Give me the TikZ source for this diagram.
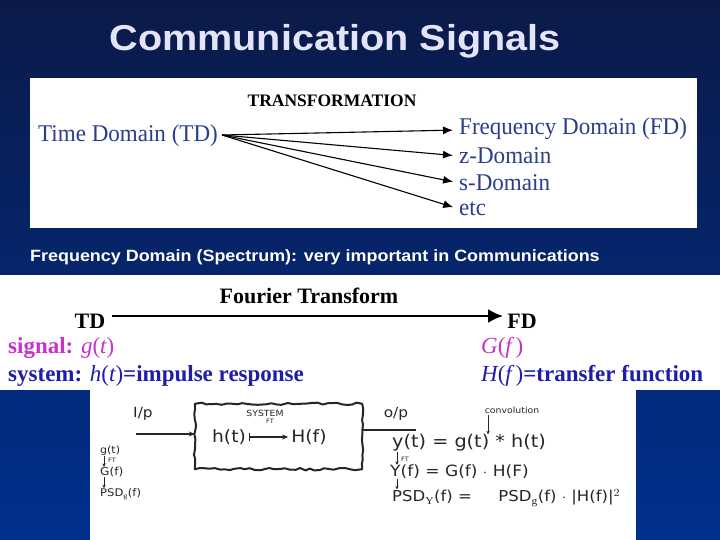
\documentclass[tikz,border=0pt]{standalone}
\usepackage{fontspec}
\setmainfont{Liberation Serif}
\newfontfamily\arialf{Liberation Sans}
\newfontfamily\handf{DejaVu Sans}
\usetikzlibrary{arrows.meta,decorations.pathmorphing}
\definecolor{bgtop}{HTML}{0B1A48}
\definecolor{bgmid}{HTML}{072A78}
\definecolor{bgbot}{HTML}{00308E}
\definecolor{titlec}{HTML}{E4E4F8}
\definecolor{boxblue}{HTML}{2B3E8C}
\definecolor{magc}{HTML}{C832C8}
\definecolor{sysblue}{HTML}{1E1EA8}
\definecolor{penc}{HTML}{262626}
\newcommand{\hsc}[1]{\scalebox{1.1}[1]{#1}}
\newcommand{\hw}[1]{\scalebox{1.1}[1]{#1}}
\begin{document}
\begin{tikzpicture}[x=1pt,y=-1pt,
  bt/.style={font=\fontsize{24}{26}\selectfont, text=boxblue, inner sep=0pt, anchor=west},
  thinarr/.style={-{Latex[length=10pt,width=8pt]}, line width=1.1pt, black},
  bb/.style={font=\bfseries\fontsize{22}{25}\selectfont, inner sep=0pt},
  lbl/.style={font=\bfseries\fontsize{23}{26}\selectfont, inner sep=0pt, anchor=west},
  hand/.style={font=\handf\fontsize{#1}{#1}\selectfont, text=penc, inner sep=0pt},
  hand/.default=11,
  pen/.style={draw=penc, line width=1.2pt},
  penarr/.style={pen, -{Stealth[length=6pt,width=5pt]}},
  smallarr/.style={penc, line width=0.9pt, -{Stealth[length=3.5pt,width=3.5pt]}}
]
\useasboundingbox (0,0) rectangle (720,540);
\shade[top color=bgtop, middle color=bgmid, bottom color=bgbot] (0,0) rectangle (720,540);

% title
\node[font=\arialf\bfseries\fontsize{36}{40}\selectfont, text=titlec, inner sep=0pt] (title) at (335,41) {\hsc{Communication Signals}};

% box 1
\fill[white] (30,78) rectangle (697,228);
\node[font=\bfseries\fontsize{17.5}{20}\selectfont, inner sep=0pt] (trans) at (332,101) {TRANSFORMATION};
\node[bt, inner xsep=0pt] (td) at (38,136) {\scalebox{0.96}[1]{Time Domain (TD)}};
\node[bt] (fd) at (459,129) {\scalebox{0.96}[1]{Frequency Domain (FD)}};
\node[bt] (zd) at (459,156) {\scalebox{0.96}[1]{z-Domain}};
\node[bt] (sd) at (459,183) {\scalebox{0.96}[1]{s-Domain}};
\node[bt] (etc) at (459,209) {\scalebox{0.96}[1]{etc}};
\coordinate (tdout) at ([xshift=4pt,yshift=1pt]td.east);
\draw[thinarr, shorten >=6pt] (tdout) -- ([yshift=-1pt]fd.west);
\draw[thinarr, shorten >=6pt] (tdout) -- (zd.west);
\draw[thinarr, shorten >=6pt] (tdout) -- (sd.west);
\draw[thinarr, shorten >=6pt] (tdout) -- (etc.west);

% band text
\node[font=\arialf\bfseries\fontsize{16.3}{19}\selectfont, text=white, anchor=west, inner sep=0pt] (spec) at (30,257) {\hsc{Frequency Domain (Spectrum): very important in Communications}};

% box 2
\fill[white] (0,275) rectangle (720,390);
\fill[white] (90,390) rectangle (636,540);
\node[bb] (ftl) at (309,296) {Fourier Transform};
\node[bb, inner xsep=7pt] (td2) at (90,321) {TD};
\node[bb, inner xsep=4pt] (fd2) at (522,321) {FD};
\draw[line width=2.5pt, -{Latex[length=15pt,width=14pt]}] ([yshift=5pt]td2.east) -- ([yshift=5pt]fd2.west);
\node[lbl, text=magc] (sig) at (8,348) {signal: {\mdseries\itshape g}{\mdseries(}{\mdseries\itshape t}{\mdseries)}};
\node[lbl, text=sysblue] (sys) at (8,376) {system: {\mdseries\itshape h}{\mdseries(}{\mdseries\itshape t}{\mdseries)}=impulse response};
\node[lbl, text=magc] (gf) at (481,348) {{\mdseries\itshape G}{\mdseries(}{\mdseries\itshape f\,}{\mdseries)}};
\node[lbl, text=sysblue] (hf) at (481,376) {{\mdseries\itshape H}{\mdseries(}{\mdseries\itshape f\,}{\mdseries)}=transfer function};

% hand sketch
\pgfmathsetseed{7}
\node[minimum width=167pt, minimum height=65pt, inner sep=0pt] (sysbox) at (278.5,436.5) {};
\draw[penc, line width=2pt, line join=round, decorate, decoration={random steps, segment length=5pt, amplitude=1.2pt}] (sysbox.north west) rectangle (sysbox.south east);
\node[hand=14] (ip) at (143,414) {\hw{I/p}};
\coordinate (ipstart) at (136,434);
\draw[penarr] (ipstart) -- (sysbox.west |- ipstart);
\node[hand=8.5] (systxt) at (265,413) {\hw{SYSTEM}};
\node[hand=6] (fttxt) at (270,421) {\hw{FT}};
\node[hand=17] (ht) at (229,437) {\hw{h(t)}};
\node[hand=17] (hfs) at (309,437) {\hw{H(f)}};
\draw[pen, |-{Stealth[length=6pt,width=5pt]}, shorten <=3pt, shorten >=3pt] (ht.east) -- (hfs.west);
\coordinate (opend) at (416,430);
\draw[penc, line width=2.5pt] (sysbox.east |- opend) -- (opend);
\node[hand=14] (op) at (396,414) {\hw{o/p}};
\node[hand=8.5] (conv) at (512,410) {\hw{convolution}};
\node[hand=17.5, anchor=west] (yeq) at (392,443) {\hw{y(t) = g(t) * h(t)}};
\coordinate (convarr) at (488,415);
\draw[smallarr] (convarr) -- (convarr |- yeq.north);
\node[hand=15.5, anchor=west] (Yeq) at (390,472) {\hw{Y(f) = G(f) $\cdot$ H(F)}};
\node[hand=15, anchor=west] (psdeq) at (392,498) {\hw{PSD$_{\mathrm{Y}}$(f) =\hspace{24pt}PSD$_{\mathrm{g}}$(f) $\cdot$ |H(f)|$^{2}$}};
\coordinate (rx) at (397,0);
\draw[smallarr] (rx |- yeq.south) -- (rx |- Yeq.north);
\node[hand=6] (ft2) at (405,459) {\hw{FT}};
\draw[smallarr] (rx |- Yeq.south) -- (rx |- psdeq.north);
% left column
\coordinate (lx) at (104,0);
\node[hand=10, anchor=west] (gt) at (100,451) {\hw{g(t)}};
\node[hand=11, anchor=west] (Gf) at (100,472) {\hw{G(f)}};
\node[hand=10.5, anchor=west] (psdg) at (100,494) {\hw{PSD$_{\mathrm{g}}$(f)}};
\draw[smallarr] (lx |- gt.south) -- (lx |- Gf.north);
\node[hand=6] (ft3) at (112,460) {\hw{FT}};
\draw[smallarr] (lx |- Gf.south) -- (lx |- psdg.north);
\end{tikzpicture}
\end{document}
